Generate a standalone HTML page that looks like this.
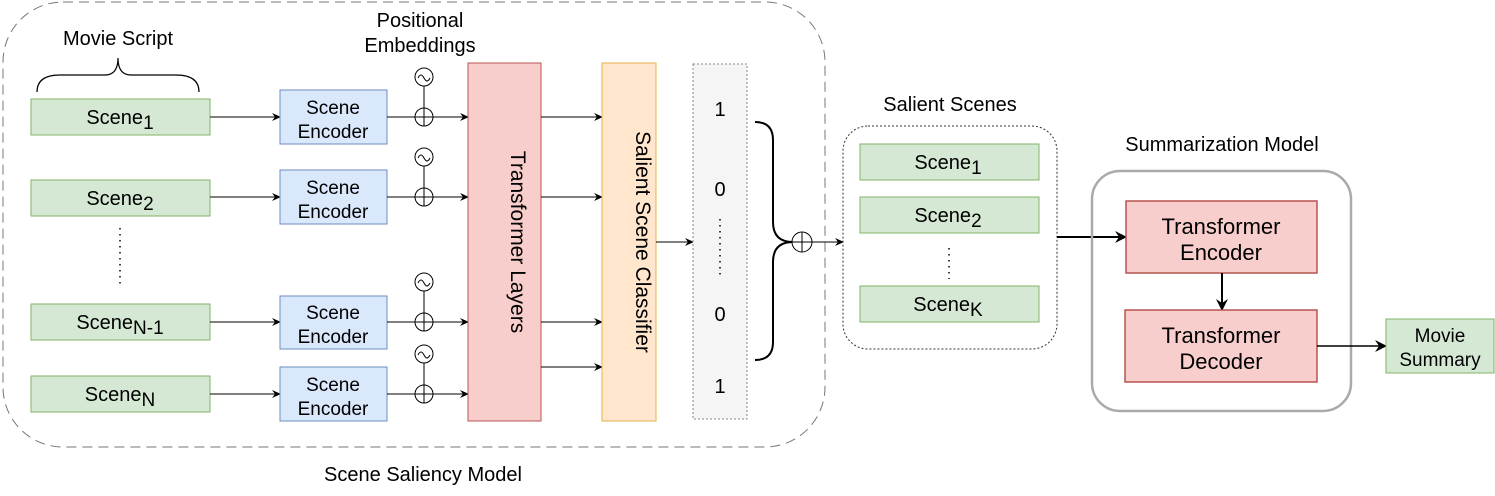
<!DOCTYPE html>
<html><head><meta charset="utf-8"><style>
html,body{margin:0;padding:0;background:#fff;}
svg{display:block;font-family:"Liberation Sans",Arial,sans-serif;}
</style></head><body>
<svg width="1495" height="496" viewBox="0 0 1495 496" font-family="Liberation Sans, Arial, sans-serif">
<defs>
<marker id="ah" markerWidth="10" markerHeight="10" refX="8" refY="5" orient="auto" markerUnits="userSpaceOnUse"><path d="M0,1 L9,5 L0,9 L3,5 Z" fill="#000"/></marker>
<marker id="ahb" markerWidth="14" markerHeight="14" refX="11" refY="7" orient="auto" markerUnits="userSpaceOnUse"><path d="M0,1 L12,7 L0,13 L4,7 Z" fill="#000"/></marker>
</defs>

<rect x="3" y="2" width="822" height="445" rx="60" fill="none" stroke="#777" stroke-width="1" stroke-dasharray="10,6"/>
<text x="423" y="481" font-size="20" text-anchor="middle">Scene Saliency Model</text>

<text x="118" y="45" font-size="20" text-anchor="middle">Movie Script</text>
<path d="M37,92 Q37,75 60,75 L105,75 Q118,75 118,58 Q118,75 131,75 L176,75 Q199,75 199,92" fill="none" stroke="#000" stroke-width="1.2"/>
<text x="420" y="27" font-size="20" text-anchor="middle">Positional</text>
<text x="420" y="52" font-size="20" text-anchor="middle">Embeddings</text>

<g>
<rect x="31" y="99" width="179" height="36" fill="#d5e8d4" stroke="#82b366"/>
<text x="120" y="124" font-size="20" text-anchor="middle">Scene<tspan font-size="19" dy="5">1</tspan></text>
<line x1="210" y1="117" x2="280" y2="117" stroke="#000" marker-end="url(#ah)"/>
<rect x="280" y="90" width="107" height="54" fill="#dae8fc" stroke="#6c8ebf"/>
<text x="333" y="114" font-size="19" text-anchor="middle">Scene</text><text x="333" y="138" font-size="19" text-anchor="middle">Encoder</text>
<line x1="387" y1="117" x2="468" y2="117" stroke="#000" marker-end="url(#ah)"/>
<circle cx="424" cy="77" r="9" fill="#fff" stroke="#000"/><path d="M418,78 q3,-6 6,0 q3,6 6,0" fill="none" stroke="#000"/>
<line x1="424" y1="86" x2="424" y2="126" stroke="#000"/><circle cx="424" cy="117" r="9" fill="none" stroke="#000"/>
</g>
<g>
<rect x="31" y="180" width="179" height="36" fill="#d5e8d4" stroke="#82b366"/>
<text x="120" y="205" font-size="20" text-anchor="middle">Scene<tspan font-size="19" dy="5">2</tspan></text>
<line x1="210" y1="197" x2="280" y2="197" stroke="#000" marker-end="url(#ah)"/>
<rect x="280" y="170" width="107" height="54" fill="#dae8fc" stroke="#6c8ebf"/>
<text x="333" y="194" font-size="19" text-anchor="middle">Scene</text><text x="333" y="218" font-size="19" text-anchor="middle">Encoder</text>
<line x1="387" y1="197" x2="468" y2="197" stroke="#000" marker-end="url(#ah)"/>
<circle cx="424" cy="157" r="9" fill="#fff" stroke="#000"/><path d="M418,158 q3,-6 6,0 q3,6 6,0" fill="none" stroke="#000"/>
<line x1="424" y1="166" x2="424" y2="206" stroke="#000"/><circle cx="424" cy="197" r="9" fill="none" stroke="#000"/>
</g>
<line x1="120" y1="228" x2="120" y2="287" stroke="#000" stroke-width="1.5" stroke-dasharray="1.5,4.5"/>
<g>
<rect x="31" y="304" width="179" height="36" fill="#d5e8d4" stroke="#82b366"/>
<text x="120" y="329" font-size="20" text-anchor="middle">Scene<tspan font-size="19" dy="5">N-1</tspan></text>
<line x1="210" y1="322" x2="280" y2="322" stroke="#000" marker-end="url(#ah)"/>
<rect x="280" y="296" width="107" height="53" fill="#dae8fc" stroke="#6c8ebf"/>
<text x="333" y="319" font-size="19" text-anchor="middle">Scene</text><text x="333" y="343" font-size="19" text-anchor="middle">Encoder</text>
<line x1="387" y1="322" x2="468" y2="322" stroke="#000" marker-end="url(#ah)"/>
<circle cx="424" cy="282" r="9" fill="#fff" stroke="#000"/><path d="M418,283 q3,-6 6,0 q3,6 6,0" fill="none" stroke="#000"/>
<line x1="424" y1="291" x2="424" y2="331" stroke="#000"/><circle cx="424" cy="322" r="9" fill="none" stroke="#000"/>
</g>
<g>
<rect x="31" y="376" width="179" height="36" fill="#d5e8d4" stroke="#82b366"/>
<text x="120" y="401" font-size="20" text-anchor="middle">Scene<tspan font-size="19" dy="5">N</tspan></text>
<line x1="210" y1="394" x2="280" y2="394" stroke="#000" marker-end="url(#ah)"/>
<rect x="280" y="367" width="107" height="54" fill="#dae8fc" stroke="#6c8ebf"/>
<text x="333" y="391" font-size="19" text-anchor="middle">Scene</text><text x="333" y="415" font-size="19" text-anchor="middle">Encoder</text>
<line x1="387" y1="394" x2="468" y2="394" stroke="#000" marker-end="url(#ah)"/>
<circle cx="424" cy="354" r="9" fill="#fff" stroke="#000"/><path d="M418,355 q3,-6 6,0 q3,6 6,0" fill="none" stroke="#000"/>
<line x1="424" y1="363" x2="424" y2="403" stroke="#000"/><circle cx="424" cy="394" r="9" fill="none" stroke="#000"/>
</g>

<rect x="468" y="63" width="73" height="358" fill="#f8cecc" stroke="#b85450"/>
<text x="504" y="242" font-size="21" text-anchor="middle" transform="rotate(90 504 242)" dy="-7">Transformer Layers</text>
<g stroke="#000">
<line x1="541" y1="117" x2="602" y2="117" marker-end="url(#ah)"/>
<line x1="541" y1="197" x2="602" y2="197" marker-end="url(#ah)"/>
<line x1="541" y1="322" x2="602" y2="322" marker-end="url(#ah)"/>
<line x1="541" y1="367" x2="602" y2="367" marker-end="url(#ah)"/>
</g>
<rect x="602" y="63" width="54" height="358" fill="#ffe6cc" stroke="#e6b24a"/>
<text x="629" y="242" font-size="21" text-anchor="middle" transform="rotate(90 629 242)" dy="-7">Salient Scene Classifier</text>
<line x1="656" y1="242" x2="693" y2="242" stroke="#000" marker-end="url(#ah)"/>

<rect x="693" y="64" width="54" height="355" fill="#f5f5f5" stroke="#888" stroke-dasharray="2,2"/>
<g font-size="20" text-anchor="middle">
<text x="720" y="116">1</text><text x="720" y="196">0</text><text x="720" y="321">0</text><text x="720" y="393">1</text>
</g>
<line x1="720" y1="219" x2="720" y2="279" stroke="#000" stroke-width="1.5" stroke-dasharray="1.5,4.5"/>
<path d="M755,122 Q773,122 773,140 L773,222 Q773,242 793,242 Q773,242 773,262 L773,342 Q773,360 755,360" fill="none" stroke="#000" stroke-width="2"/>
<circle cx="802" cy="242" r="10" fill="#fff" stroke="#000"/>
<line x1="792" y1="242" x2="812" y2="242" stroke="#000"/><line x1="802" y1="232" x2="802" y2="252" stroke="#000"/>
<line x1="812" y1="242" x2="843" y2="242" stroke="#000" marker-end="url(#ah)"/>

<text x="950" y="111" font-size="20" text-anchor="middle">Salient Scenes</text>
<rect x="843" y="126" width="214" height="223" rx="25" fill="none" stroke="#333" stroke-dasharray="2,2"/>
<rect x="860" y="144" width="179" height="36" fill="#d5e8d4" stroke="#82b366"/>
<text x="948" y="169" font-size="20" text-anchor="middle">Scene<tspan font-size="19" dy="5">1</tspan></text>
<rect x="860" y="197" width="179" height="36" fill="#d5e8d4" stroke="#82b366"/>
<text x="948" y="222" font-size="20" text-anchor="middle">Scene<tspan font-size="19" dy="5">2</tspan></text>
<line x1="949" y1="248" x2="949" y2="279" stroke="#000" stroke-width="1.5" stroke-dasharray="1.5,4.5"/>
<rect x="860" y="286" width="179" height="36" fill="#d5e8d4" stroke="#82b366"/>
<text x="948" y="311" font-size="20" text-anchor="middle">Scene<tspan font-size="19" dy="5">K</tspan></text>

<line x1="1057" y1="237" x2="1126" y2="237" stroke="#000" stroke-width="2" marker-end="url(#ahb)"/>
<text x="1222" y="151" font-size="20" text-anchor="middle">Summarization Model</text>
<rect x="1092" y="171" width="259" height="240" rx="28" fill="none" stroke="#aaa" stroke-width="2.5"/>
<rect x="1126" y="201" width="191" height="72" fill="#f8cecc" stroke="#b85450" stroke-width="1.5"/>
<text x="1221" y="234" font-size="22" text-anchor="middle">Transformer</text><text x="1221" y="260" font-size="22" text-anchor="middle">Encoder</text>
<line x1="1222" y1="273" x2="1222" y2="310" stroke="#000" stroke-width="2" marker-end="url(#ahb)"/>
<rect x="1125" y="310" width="192" height="72" fill="#f8cecc" stroke="#b85450" stroke-width="1.5"/>
<text x="1221" y="343" font-size="22" text-anchor="middle">Transformer</text><text x="1221" y="369" font-size="22" text-anchor="middle">Decoder</text>
<line x1="1317" y1="346" x2="1386" y2="346" stroke="#000" stroke-width="1.5" marker-end="url(#ahb)"/>
<rect x="1386" y="319" width="108" height="54" fill="#d5e8d4" stroke="#82b366"/>
<text x="1440" y="342" font-size="19" text-anchor="middle">Movie</text><text x="1440" y="366" font-size="19" text-anchor="middle">Summary</text>
</svg>
</body></html>
